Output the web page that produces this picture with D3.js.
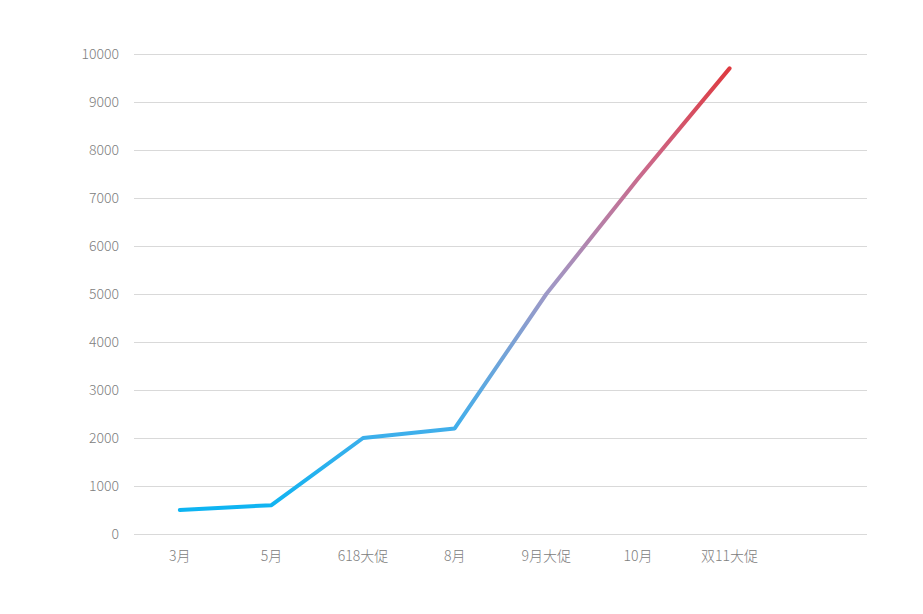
<!DOCTYPE html>
<html>
<head>
<meta charset="utf-8">
<script src="https://cdn.jsdelivr.net/npm/d3@7/dist/d3.min.js"></script>
<style>
  html, body { margin: 0; padding: 0; background: #fff; }
  svg text { font-family: "Noto Sans CJK SC", "Noto Sans", sans-serif; font-weight: 300; }
</style>
</head>
<body>
<svg id="chart" width="923" height="614"></svg>
<script>
const categories = ["3月", "5月", "618大促", "8月", "9月大促", "10月", "双11大促", ""];
const values = [500, 600, 2000, 2200, 5000, 7400, 9700];
const yTicks = [0, 1000, 2000, 3000, 4000, 5000, 6000, 7000, 8000, 9000, 10000];

const W = 923, H = 614;
const margin = { top: 54, right: 56, bottom: 80, left: 134 };
const svg = d3.select("#chart");

const x = d3.scaleBand().domain(categories).range([margin.left, W - margin.right]).padding(0);
const y = d3.scaleLinear().domain([0, 10000]).range([H - margin.bottom, margin.top]);

// gridlines
svg.append("g")
  .selectAll("line")
  .data(yTicks)
  .join("line")
  .attr("x1", margin.left)
  .attr("x2", W - margin.right)
  .attr("y1", d => y(d) + 0.5)
  .attr("y2", d => y(d) + 0.5)
  .attr("stroke", "#d9d9d9")
  .attr("stroke-width", 1);

// y axis labels
const yAxis = d3.axisLeft(y).tickValues(yTicks).tickSize(0).tickPadding(15).tickFormat(d3.format("d"));
const gy = svg.append("g").attr("transform", `translate(${margin.left},0)`).call(yAxis);
gy.select(".domain").remove();
gy.selectAll("text").attr("fill", "#808080").style("font-size", "14px");

// x axis labels
const xAxis = d3.axisBottom(x).tickSize(0).tickPadding(17);
const gx = svg.append("g").attr("transform", `translate(0,${H - margin.bottom})`).call(xAxis);
gx.select(".domain").remove();
gx.selectAll("text").attr("fill", "#808080").style("font-size", "14px");

// gradient
const defs = svg.append("defs");
const grad = defs.append("linearGradient")
  .attr("id", "lineGrad")
  .attr("gradientUnits", "userSpaceOnUse")
  .attr("x1", 0).attr("x2", 0)
  .attr("y1", y(d3.min(values))).attr("y2", y(d3.max(values)));
grad.append("stop").attr("offset", "0%").attr("stop-color", "#0db4f2");
grad.append("stop").attr("offset", "20%").attr("stop-color", "#45aeea");
grad.append("stop").attr("offset", "50%").attr("stop-color", "#a098c6");
grad.append("stop").attr("offset", "78%").attr("stop-color", "#cc6788");
grad.append("stop").attr("offset", "100%").attr("stop-color", "#de3a40");

const line = d3.line()
  .x((d, i) => x(categories[i]) + x.bandwidth() / 2)
  .y(d => y(d));

svg.append("path")
  .datum(values)
  .attr("d", line)
  .attr("fill", "none")
  .attr("stroke", "url(#lineGrad)")
  .attr("stroke-width", 4)
  .attr("stroke-linecap", "round")
  .attr("stroke-linejoin", "round");
</script>
</body>
</html>
